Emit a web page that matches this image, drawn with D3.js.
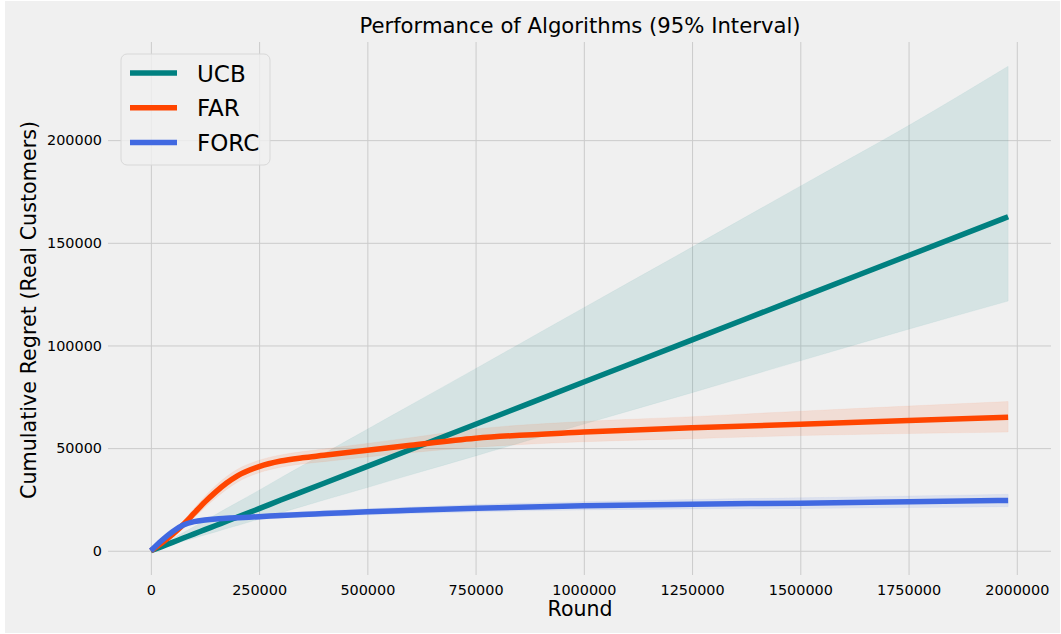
<!DOCTYPE html>
<html lang="en">
<head>
<meta charset="UTF-8">
<script src="https://d3js.org/d3.v7.min.js"></script>
<title>Performance of Algorithms</title>
<style>
  body { margin: 0; background: #fff; }
  svg { display: block; font-family: "DejaVu Sans", sans-serif; }
  .grid line { stroke: #cbcbcb; stroke-width: 1; }
  .tick text { fill: #000; font-size: 14.4px; }
</style>
</head>
<body>
<script>
// rounds sampled along the x axis
var rounds = [0, 25000, 50000, 75000, 100000, 125000, 150000, 175000, 200000, 250000,
  300000, 350000, 400000, 500000, 600000, 750000, 1000000, 1250000, 1500000, 1750000, 1980000];

var ucbMean = [0, 2050, 4100, 6200, 8200, 10300, 12300, 14400, 16400, 20500,
  24700, 28800, 32900, 41100, 49300, 61600, 82200, 102700, 123300, 143800, 162700];
var ucbUpper = [0, 2950, 5900, 8900, 11800, 14800, 17700, 20700, 23600, 29500,
  35600, 41500, 47400, 59200, 71000, 88700, 118400, 147900, 177600, 207100, 236000];
var ucbLower = [0, 1540, 3080, 4650, 6150, 7700, 9200, 10800, 12300, 15400,
  18500, 21600, 24700, 30800, 37000, 46200, 61700, 77000, 92500, 107900, 121600];

var farMean = [0, 3800, 8000, 12800, 18300, 23800, 28700, 33000, 36500, 41000,
  43700, 45300, 46500, 49000, 51400, 54800, 57800, 59900, 61600, 63400, 65000];
var farUpper = [0, 4500, 9300, 14700, 20700, 26600, 31800, 36200, 39700, 44100,
  46700, 48300, 49600, 52300, 55100, 59300, 63000, 65300, 68000, 70500, 72700];
var farLower = [0, 3100, 6700, 11000, 16000, 21100, 25700, 29900, 33400, 38000,
  40700, 42300, 43400, 45700, 47800, 50400, 53100, 54600, 56100, 57100, 57800];

var forcMean = [0, 5000, 9300, 12500, 14200, 15000, 15500, 15800, 16100, 16600,
  17200, 17700, 18100, 19000, 19700, 20700, 21900, 22700, 23200, 23850, 24500];
var forcUpper = [0, 5400, 10000, 13400, 15200, 16100, 16600, 17000, 17300, 17800,
  18500, 19000, 19500, 20500, 21300, 22500, 23900, 25000, 25800, 26650, 27500];
var forcLower = [0, 4600, 8600, 11600, 13200, 13900, 14400, 14600, 14900, 15400,
  15900, 16400, 16700, 17500, 18100, 18900, 19900, 20400, 20600, 21050, 21500];

var seriesNames = ["UCB", "FAR", "FORC"];
var seriesColors = ["#008080", "#ff4500", "#4169e1"];

var xTicks = [0, 250000, 500000, 750000, 1000000, 1250000, 1500000, 1750000, 2000000];
var yTicks = [0, 50000, 100000, 150000, 200000];

var W = 1061, H = 634;
var plot = {left: 108, right: 1051, top: 42, bottom: 575};

var series = [
  {name: seriesNames[0], color: seriesColors[0], mean: ucbMean, upper: ucbUpper, lower: ucbLower},
  {name: seriesNames[1], color: seriesColors[1], mean: farMean, upper: farUpper, lower: farLower},
  {name: seriesNames[2], color: seriesColors[2], mean: forcMean, upper: forcUpper, lower: forcLower}
];

var svg = d3.select("body").append("svg")
    .attr("width", W)
    .attr("height", H);

// figure background (thin white margin like the saved png)
svg.append("rect")
    .attr("x", 5).attr("y", 1)
    .attr("width", W - 6).attr("height", H - 2)
    .attr("fill", "#f0f0f0");

// matplotlib style 5% margins
var xScale = d3.scaleLinear().domain([-99000, 2079000]).range([plot.left, plot.right]);
var yScale = d3.scaleLinear().domain([-11800, 247800]).range([plot.bottom, plot.top]);

// grid
svg.append("g")
    .attr("class", "grid")
    .attr("transform", "translate(0," + plot.bottom + ")")
    .call(d3.axisBottom(xScale).tickValues(xTicks).tickSize(-(plot.bottom - plot.top)).tickFormat(""))
    .call(function(g) { g.select(".domain").remove(); });

svg.append("g")
    .attr("class", "grid")
    .attr("transform", "translate(" + plot.left + ",0)")
    .call(d3.axisLeft(yScale).tickValues(yTicks).tickSize(-(plot.right - plot.left)).tickFormat(""))
    .call(function(g) { g.select(".domain").remove(); });

// tick labels
svg.append("g")
    .attr("transform", "translate(0," + plot.bottom + ")")
    .call(d3.axisBottom(xScale).tickValues(xTicks).tickSize(0).tickPadding(10).tickFormat(d3.format("d")))
    .call(function(g) { g.select(".domain").remove(); g.selectAll("text").attr("font-family", "DejaVu Sans"); });

svg.append("g")
    .attr("transform", "translate(" + plot.left + ",0)")
    .call(d3.axisLeft(yScale).tickValues(yTicks).tickSize(0).tickPadding(6).tickFormat(d3.format("d")))
    .call(function(g) { g.select(".domain").remove(); g.selectAll("text").attr("font-family", "DejaVu Sans"); });

// bands
var area = d3.area()
    .x(function(d) { return xScale(d.x); })
    .y0(function(d) { return yScale(d.lo); })
    .y1(function(d) { return yScale(d.hi); })
    .curve(d3.curveMonotoneX);

var line = d3.line()
    .x(function(d) { return xScale(d.x); })
    .y(function(d) { return yScale(d.y); })
    .curve(d3.curveMonotoneX);

series.forEach(function(s) {
  var pts = rounds.map(function(r, i) { return {x: r, y: s.mean[i], lo: s.lower[i], hi: s.upper[i]}; });
  svg.append("path")
      .datum(pts)
      .attr("d", area)
      .attr("fill", s.color)
      .attr("fill-opacity", 0.11)
      .attr("stroke", s.color)
      .attr("stroke-opacity", 0.05);
});

series.forEach(function(s) {
  var pts = rounds.map(function(r, i) { return {x: r, y: s.mean[i]}; });
  svg.append("path")
      .datum(pts)
      .attr("d", line)
      .attr("fill", "none")
      .attr("stroke", s.color)
      .attr("stroke-width", 5.5);
});

// title and axis labels
svg.append("text")
    .attr("x", 580).attr("y", 33)
    .attr("text-anchor", "middle")
    .attr("font-size", "21.2px")
    .text("Performance of Algorithms (95% Interval)");

svg.append("text")
    .attr("x", 580).attr("y", 616)
    .attr("text-anchor", "middle")
    .attr("font-size", "20.5px")
    .text("Round");

svg.append("text")
    .attr("transform", "translate(36," + 310 + ") rotate(-90)")
    .attr("text-anchor", "middle")
    .attr("font-size", "20.7px")
    .text("Cumulative Regret (Real Customers)");

// legend
var legend = svg.append("g").attr("transform", "translate(121,54)");
legend.append("rect")
    .attr("width", 149).attr("height", 111)
    .attr("rx", 6)
    .attr("fill", "#f0f0f0").attr("fill-opacity", 0.8)
    .attr("stroke", "#d8d8d8");

var item = legend.selectAll(".item")
    .data(series)
  .enter().append("g")
    .attr("transform", function(d, i) { return "translate(0," + (19 + i * 34.7) + ")"; });

item.append("line")
    .attr("x1", 9).attr("x2", 56)
    .attr("stroke", function(d) { return d.color; })
    .attr("stroke-width", 5.5);

item.append("text")
    .attr("x", 76).attr("y", 8.5)
    .attr("font-size", "23px")
    .text(function(d) { return d.name; });
</script>
</body>
</html>
